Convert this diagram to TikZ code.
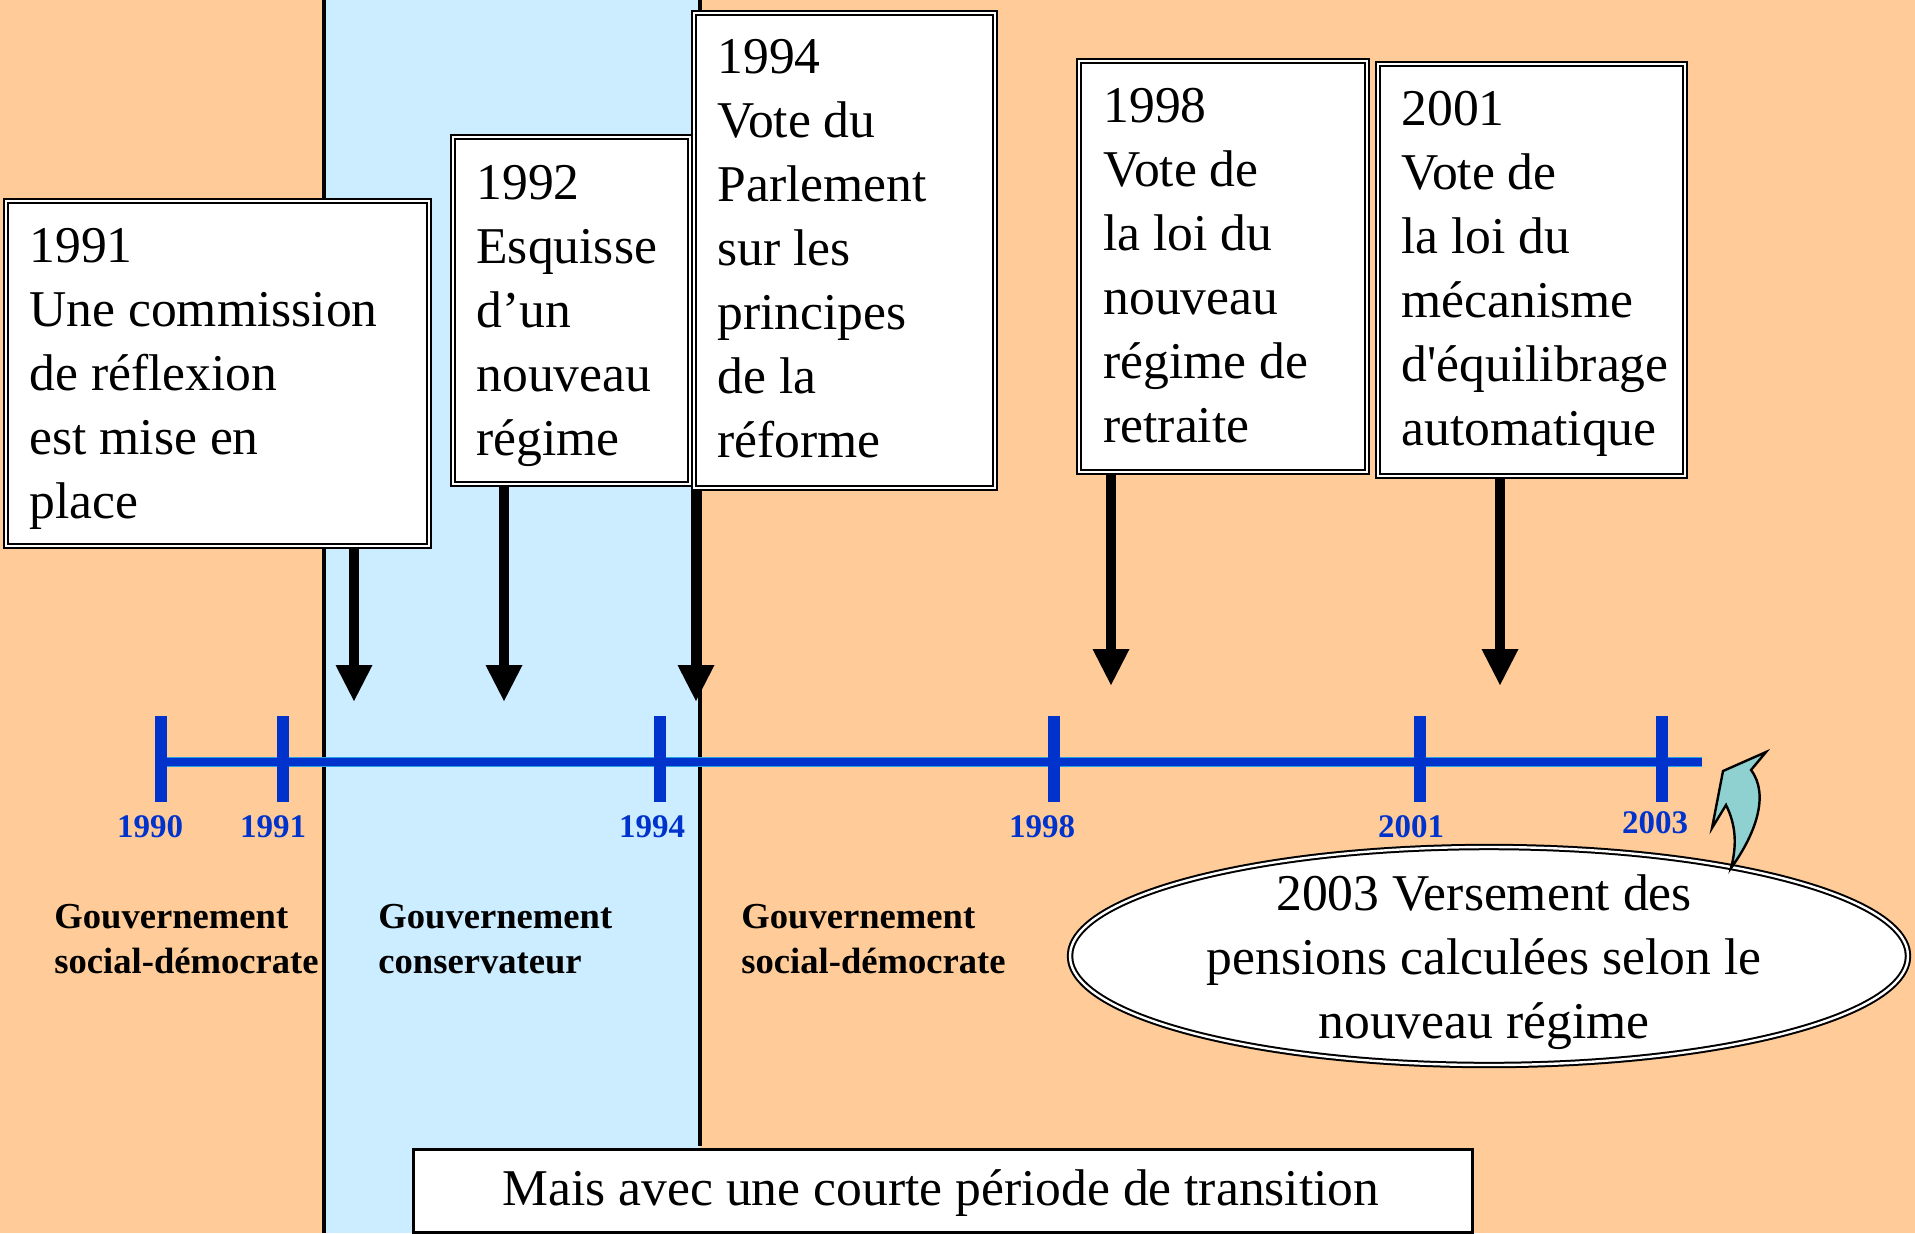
\documentclass[tikz,border=0pt]{standalone}
\usepackage{fontspec}
\setmainfont{Liberation Serif}
\usetikzlibrary{arrows.meta,shapes.geometric}
\definecolor{peach}{RGB}{255,204,153}
\definecolor{lightsky}{RGB}{204,236,255}
\definecolor{tlblue}{RGB}{0,51,204}
\definecolor{tlcyan}{RGB}{40,160,230}
\definecolor{calloutfill}{RGB}{143,208,208}
\begin{document}
\begin{tikzpicture}[x=0.5pt,y=-0.5pt,
  evbox/.style={draw=black, line width=0.8pt, double=white, double distance=1.2pt, fill=white, inner sep=0pt, anchor=north west},
  boxtext/.style={font=\fontsize{25.8}{32}\selectfont, align=left, inner sep=0pt, anchor=base west},
  yearlab/.style={font=\bfseries\fontsize{16.5}{20}\selectfont, text=tlblue, inner sep=0pt, anchor=base},
  govlab/.style={font=\bfseries\fontsize{18.3}{22.5}\selectfont, align=left, inner sep=0pt, anchor=base west},
  bigarrow/.style={line width=5pt, -{Triangle[length=18.5pt, width=17pt]}},
  tlTick/.style={line width=6pt, tlblue},
  sepline/.style={line width=1.6pt, black}]
\useasboundingbox (0,0) rectangle (1915,1233);
% backgrounds
\fill[peach] (0,0) rectangle (1915,1233);
\fill[lightsky] (324,0) rectangle (700,1233);
\draw[sepline] (324,0) -- (324,1233);
\draw[sepline] (700,0) -- (700,1146);
% timeline
\coordinate (tlL) at (167,762);
\coordinate (tlR) at (1702,762);
\draw[line width=5pt, tlcyan] (tlL) -- (tlR);
\draw[line width=4pt, tlblue] (tlL) -- (tlR);
\foreach \xx in {161,283,660,1054,1420,1662}{
  \draw[tlTick] (\xx,716) -- (\xx,802);
}
% year labels
\node[yearlab] (y1990) at (150,837) {1990};
\node[yearlab] (y1991) at (273,837) {1991};
\node[yearlab] (y1994) at (652,837) {1994};
\node[yearlab] (y1998) at (1042,837) {1998};
\node[yearlab] (y2001) at (1411,837) {2001};
\node[yearlab] (y2003) at (1655,833) {2003};
% government labels (anchor = baseline of last line)
\node[govlab] (g1) at (54,973) {Gouvernement\\social-démocrate};
\node[govlab] (g2) at (378,973) {Gouvernement\\conservateur};
\node[govlab] (g3) at (741,973) {Gouvernement\\social-démocrate};
% boxes
\node[evbox, minimum width=423*0.5pt, minimum height=345*0.5pt] (b1991) at (5,200) {};
\node[evbox, minimum width=237*0.5pt, minimum height=347*0.5pt] (b1992) at (452,136) {};
\node[evbox, minimum width=301*0.5pt, minimum height=475*0.5pt] (b1994) at (693,12) {};
\node[evbox, minimum width=288*0.5pt, minimum height=411*0.5pt] (b1998) at (1078,60) {};
\node[evbox, minimum width=307*0.5pt, minimum height=412*0.5pt] (b2001) at (1377,63) {};
% arrows
\coordinate (tip1) at (354,702);
\coordinate (tip2) at (504,702);
\coordinate (tip3) at (696,702);
\coordinate (tip4) at (1111,686);
\coordinate (tip5) at (1500,686);
\draw[bigarrow] (b1991.south -| tip1) -- (tip1);
\draw[bigarrow] (b1992.south -| tip2) -- (tip2);
\draw[bigarrow] (b1994.south -| tip3) -- (tip3);
\draw[bigarrow] (b1998.south -| tip4) -- (tip4);
\draw[bigarrow] (b2001.south -| tip5) -- (tip5);
% box texts (anchor = baseline of last line)
\node[boxtext] (t1991) at (29,518) {1991\\Une commission\\de réflexion\\est mise en\\place};
\node[boxtext] (t1992) at (476,455) {1992\\Esquisse\\d’un\\nouveau\\régime};
\node[boxtext] (t1994) at (717,457) {1994\\Vote du\\Parlement\\sur les\\principes\\de la\\réforme};
\node[boxtext] (t1998) at (1103,442) {1998\\Vote de\\la loi du\\nouveau\\régime de\\retraite};
\node[boxtext] (t2001) at (1401,445) {2001\\Vote de\\la loi du\\mécanisme\\d\textquotesingle équilibrage\\automatique};
% ellipse
\node[ellipse, draw=black, line width=1pt, double=white, double distance=1.2pt, fill=white, inner sep=0pt,
      minimum width=419pt, minimum height=109pt] (ell) at (1489,956) {};
\node[boxtext, align=center, anchor=base] (tell) at (1484,1038) {2003 Versement des\\pensions calculées selon le\\nouveau régime};
% curved callout arrow
\draw[line width=1.2pt, fill=calloutfill, line join=miter]
  (1731,868) .. controls (1755,835) and (1770,795) .. (1751,770)
  -- (1766,752) -- (1723,771) -- (1712,828) -- (1726,805)
  .. controls (1736,825) and (1737,845) .. (1731,868) -- cycle;
% bottom box
\node[draw=black, line width=1.5pt, fill=white, inner sep=0pt, anchor=north west,
      minimum width=1059*0.5pt, minimum height=83*0.5pt] (trans) at (411.5,1147.5) {};
\node[boxtext, anchor=base] (ttrans) at (941,1205) {Mais avec une courte période de transition};
\end{tikzpicture}
\end{document}
